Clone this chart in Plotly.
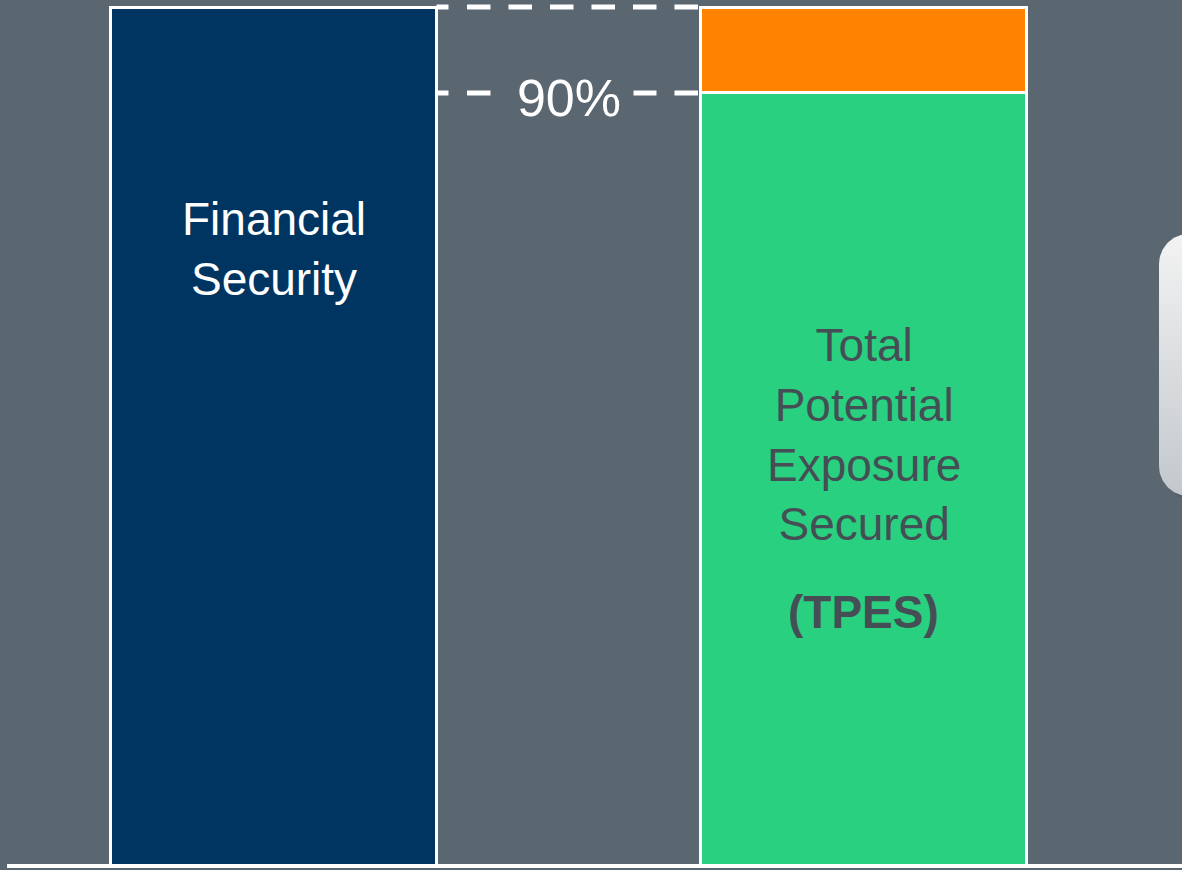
import numpy as np
import plotly.graph_objects as go

# Bar values (percent of financial security)
categories = ["Financial Security", "TPES"]
financial_security = [100, None]
tpes_secured = [None, 90]
tpes_gap = [None, 10]
coverage_label = "90%"

BG = "#5B6770"
NAVY = "#003562"
GREEN = "#29D07F"
ORANGE = "#FF8200"
TEXT_DARK = "#464E55"
FONT = "Liberation Sans, Arial, sans-serif"

W, H = 1182, 870
bar_w = 0.5525

fig = go.Figure()
line = dict(color="white", width=3)
fig.add_trace(go.Bar(x=categories, y=financial_security, width=bar_w,
                     marker=dict(color=NAVY, line=line)))
fig.add_trace(go.Bar(x=categories, y=tpes_secured, width=bar_w,
                     marker=dict(color=GREEN, line=line)))
fig.add_trace(go.Bar(x=categories, y=tpes_gap, width=bar_w,
                     marker=dict(color=ORANGE, line=line)))

# Rounded callout panel on the right edge, in pixel-space overlay axes
def rounded_rect(x0, x1, y0, y1, r, n=24):
    pts = []
    corners = [(x1 - r, y1 - r, 0, 90), (x0 + r, y1 - r, 90, 180),
               (x0 + r, y0 + r, 180, 270), (x1 - r, y0 + r, 270, 360)]
    for cx, cy, a0, a1 in corners:
        t = np.radians(np.linspace(a0, a1, n))
        pts += list(zip(cx + r * np.cos(t), cy + r * np.sin(t)))
    pts.append(pts[0])
    xs, ys = zip(*pts)
    return list(xs), list(ys)

sx, sy = rounded_rect(1162, 1300, H - 499, H - 236, 30)
fig.add_trace(go.Scatter(x=sx, y=sy, fill="toself", mode="lines",
                         line=dict(width=0), fillcolor="#4E5960",
                         xaxis="x2", yaxis="y2", hoverinfo="skip"))
px_, py_ = rounded_rect(1159, 1300, H - 496, H - 234, 30)
fig.add_trace(go.Scatter(x=px_, y=py_, fill="toself", mode="lines",
                         line=dict(width=0),
                         fillgradient=dict(type="vertical",
                                           colorscale=[[0, "#C2C8CD"], [1, "#F3F3F3"]]),
                         xaxis="x2", yaxis="y2", hoverinfo="skip"))

# Dashed connectors between the two bars (short lead-in dash, then regular dashes)
x_left = 0 + bar_w / 2
x_right = 1 - bar_w / 2
dash_pattern = ",".join(["12px", "18.5px"] + ["23.5px", "18px"] * 7)
shapes = []
for level in (financial_security[0], tpes_secured[1]):
    shapes.append(dict(type="line", xref="x", yref="y",
                       x0=x_left, x1=x_right, y0=level, y1=level,
                       line=dict(color="white", width=5, dash=dash_pattern),
                       layer="below"))
# Baseline
shapes.append(dict(type="line", xref="paper", yref="y", x0=7 / W, x1=1,
                   y0=0, y1=0, line=dict(color="white", width=4)))

annotations = [
    dict(x=0.5, y=tpes_secured[1], text=coverage_label, showarrow=False,
         font=dict(family=FONT, size=52, color="white"),
         bgcolor=BG, width=128, borderpad=0, yshift=-5),
    dict(x=categories[0], y=71.8, text="Financial<br>Security", showarrow=False,
         font=dict(family=FONT, size=46, color="white")),
    dict(x=categories[1], y=50.2,
         text="Total<br>Potential<br>Exposure<br>Secured", showarrow=False,
         font=dict(family=FONT, size=46, color=TEXT_DARK)),
    dict(x=categories[1], y=29.6, text="<b>(TPES)</b>", showarrow=False,
         font=dict(family=FONT, size=46, color=TEXT_DARK)),
]

fig.update_layout(
    width=W, height=H, margin=dict(l=0, r=0, t=0, b=0),
    paper_bgcolor=BG, plot_bgcolor=BG,
    barmode="stack", showlegend=False, hovermode=False,
    xaxis=dict(type="category", range=[-273.5 / 590, 1 + (W - 863.5) / 590],
               visible=False, fixedrange=True),
    yaxis=dict(range=[-4 / 8.59, 866 / 8.59], visible=False, fixedrange=True),
    xaxis2=dict(overlaying="x", range=[0, W], visible=False, fixedrange=True),
    yaxis2=dict(overlaying="y", range=[0, H], visible=False, fixedrange=True),
    shapes=shapes, annotations=annotations,
)

fig.write_html("out.html", config=dict(displayModeBar=False))
